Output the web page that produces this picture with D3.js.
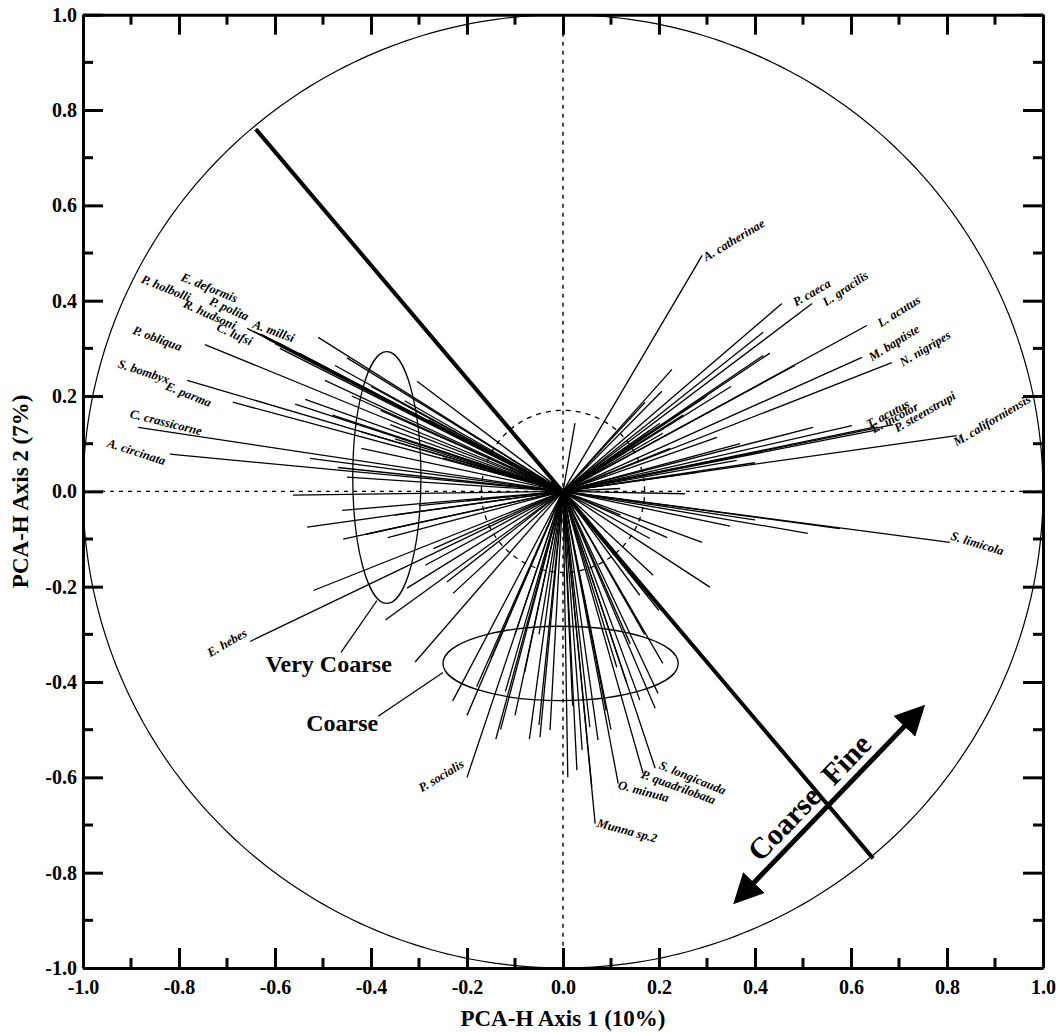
<!DOCTYPE html>
<html><head><meta charset="utf-8">
<script src="https://cdn.jsdelivr.net/npm/d3@7"></script>
<style>body{margin:0;background:#fff}svg{display:block}</style>
</head><body>
<svg id="c" width="1061" height="1033"></svg>
<script>
// ---- data ----
const speciesNames = ["A. catherinae","P. caeca","L. gracilis","L. acutus","M. baptiste","N. nigripes","T. acutus","E. incolor","P. steenstrupi","M. californiensis","S. limicola","E. hebes","P. socialis","S. longicauda","P. quadrilobata","O. minuta","Munna sp.2","A. circinata","C. crassicorne","S. bombyx","E. parma","P. obliqua","C. lufsi","A. millsi","R. hudsoni","P. polita","P. holbolli","E. deformis"];
const speciesPC1 = [0.29,0.456,0.519,0.633,0.623,0.685,0.646,0.66,0.688,0.82,0.806,-0.652,-0.2,0.192,0.167,0.115,0.067,-0.819,-0.885,-0.783,-0.688,-0.746,-0.59,-0.6,-0.62,-0.63,-0.645,-0.658];
const speciesPC2 = [0.495,0.394,0.394,0.348,0.281,0.27,0.134,0.13,0.14,0.117,-0.107,-0.315,-0.6,-0.581,-0.592,-0.613,-0.697,0.078,0.134,0.233,0.187,0.308,0.30,0.31,0.322,0.33,0.336,0.342];
// unlabeled species vectors
const otherPC1 = [-0.51,-0.304,-0.475,-0.496,-0.537,-0.558,-0.527,-0.469,-0.63,-0.596,-0.55,-0.35,-0.3,-0.42,-0.25,-0.44,-0.38,-0.2,-0.15,-0.28,
 -0.45,-0.4,-0.48,-0.42,-0.45,-0.33,-0.36,
 -0.5625,-0.46,-0.533,-0.458,-0.41,-0.365,-0.52,-0.325,-0.287,-0.27,-0.242,-0.229,-0.37,-0.308,-0.3,-0.2,-0.35,
 -0.23,-0.2,-0.14,-0.13,-0.1,-0.07,-0.05,-0.027,-0.048,-0.1,-0.15,-0.05,-0.18,-0.12,-0.08,
 0.073,0.04,0.029,0.056,0.133,0.112,0.208,0.198,0.192,0.16,0.09,0.02,0.01,0.06,0.1,0.14,0.17,
 0.577,0.51,0.348,0.29,0.217,0.181,0.306,0.188,0.16,0.254,0.4,0.12,0.2,
 0.417,0.431,0.417,0.227,0.206,0.171,0.483,0.521,0.602,0.369,0.321,0.223,0.208,0.202,0.362,0.025,0.119,0.181,0.3,0.35,0.25,0.15,0.28,0.4];
const otherPC2 = [0.323,0.231,0.264,0.233,0.193,0.183,0.069,0.05,0.33,0.313,0.29,0.11,0.1,0.125,0.07,0.2,0.17,0.06,0.08,0.15,
 0.28,0.22,0.16,0.09,0.03,0.19,0.14,
 -0.008,-0.04,-0.075,-0.10,-0.09,-0.097,-0.208,-0.203,-0.155,-0.12,-0.19,-0.214,-0.27,-0.358,-0.03,-0.02,-0.05,
 -0.44,-0.47,-0.52,-0.5,-0.47,-0.52,-0.49,-0.501,-0.516,-0.3,-0.35,-0.3,-0.41,-0.42,-0.38,
 -0.522,-0.543,-0.585,-0.495,-0.403,-0.369,-0.361,-0.424,-0.455,-0.438,-0.46,-0.45,-0.6,-0.62,-0.5,-0.32,-0.3,
 -0.078,-0.088,-0.073,-0.107,-0.097,-0.099,-0.201,-0.176,-0.218,-0.005,-0.06,-0.05,-0.25,
 0.334,0.29,0.285,0.256,0.21,0.187,0.264,0.134,0.138,0.1,0.113,0.09,0.122,0.143,0.065,0.143,0.006,0.128,0.2,0.22,0.16,0.1,0.04,0.06];
// gradient axis (bold line) end points
const gradientPC1 = [-0.64, 0.646];
const gradientPC2 = [0.76, -0.77];
// sediment ellipses
const ellipseNames = ["Very Coarse","Coarse"];
const ellipseCX = [-0.367,-0.005];
const ellipseCY = [0.029,-0.361];
const ellipseRX = [0.071,0.245];
const ellipseRY = [0.264,0.078];
const majorTicks = [-1.0,-0.8,-0.6,-0.4,-0.2,0.0,0.2,0.4,0.6,0.8,1.0];
const minorTicks = [-0.9,-0.7,-0.5,-0.3,-0.1,0.1,0.3,0.5,0.7,0.9];
const xTitle = "PCA-H Axis 1 (10%)";
const yTitle = "PCA-H Axis 2 (7%)";

// ---- label layout (offset from line end, px; rotation deg) ----
const labelLayout = {
 "A. catherinae":[4,6,-31,"start"],"P. caeca":[14,3,-30,"start"],"L. gracilis":[14,3,-34,"start"],
 "L. acutus":[14,2,-32,"start"],"M. baptiste":[10,4,-32,"start"],"N. nigripes":[11,4,-31,"start"],
 "T. acutus":[-4,1,-28,"start"],"E. incolor":[-6,4,-28,"start"],"P. steenstrupi":[4,8,-30,"start"],
 "M. californiensis":[0,11,-31,"start"],"S. limicola":[0,-3,17,"start"],"E. hebes":[-2,-6,-30,"end"],
 "P. socialis":[-2,-11,-31,"end"],"S. longicauda":[3,0,22,"start"],"P. quadrilobata":[-3,4,20,"start"],
 "O. minuta":[-1,5,15,"start"],"Munna sp.2":[1,3,15,"start"],"A. circinata":[-6,11,18,"end"],
 "C. crassicorne":[-9,-10,14,"start"],"S. bombyx":[-70,-13,18,"start"],"E. parma":[-68,-13,22,"start"],
 "P. obliqua":[-73,-11,20,"start"],"C. lufsi":[-64,-18,24,"start"],"A. millsi":[-23,-16,20,"start"],
 "R. hudsoni":[-83,-31,24,"start"],"P. polita":[-52,-30,24,"start"],"P. holbolli":[-113,-49,22,"start"],
 "E. deformis":[-67,-48,22,"start"]
};

const svg = d3.select("#c");
const X = d3.scaleLinear().domain([-1,1]).range([83,1043]);
const Y = d3.scaleLinear().domain([-1,1]).range([968,14.7]);
const serif = "'Liberation Serif','Times New Roman',serif";

// unit circle
const circ = d3.line().x(a=>X(Math.cos(a))).y(a=>Y(Math.sin(a)));
const angs = d3.range(0, 2*Math.PI+0.001, Math.PI/180);
svg.append("path").attr("d", circ(angs)).attr("fill","none").attr("stroke","#000").attr("stroke-width",1.2);

// dashed axes
svg.append("line").attr("x1",X(0)).attr("x2",X(0)).attr("y1",Y(1)).attr("y2",Y(-1))
  .attr("stroke","#000").attr("stroke-width",1.4).attr("stroke-dasharray","4,5");
svg.append("line").attr("x1",X(-1)).attr("x2",X(1)).attr("y1",Y(0)).attr("y2",Y(0))
  .attr("stroke","#000").attr("stroke-width",1.4).attr("stroke-dasharray","4,5");
// small dashed circle
const smallR = 0.17;
svg.append("path").attr("d", d3.line().x(a=>X(smallR*Math.cos(a))).y(a=>Y(smallR*Math.sin(a)))(angs))
  .attr("fill","none").attr("stroke","#000").attr("stroke-width",1.3).attr("stroke-dasharray","5,5");

// ellipses
ellipseNames.forEach((n,i)=>{
  svg.append("ellipse").attr("cx",X(ellipseCX[i])).attr("cy",Y(ellipseCY[i]))
    .attr("rx",X(ellipseRX[i])-X(0)).attr("ry",Y(0)-Y(ellipseRY[i]))
    .attr("fill","none").attr("stroke","#000").attr("stroke-width",1.3);
});

// unlabeled vectors
const others = otherPC1.map((x,i)=>({x, y: otherPC2[i]}));
svg.append("g").selectAll("line").data(others).join("line")
  .attr("x1",X(0)).attr("y1",Y(0)).attr("x2",d=>X(d.x)).attr("y2",d=>Y(d.y))
  .attr("stroke","#000").attr("stroke-width",1.3);

// labeled vectors
const species = speciesNames.map((n,i)=>({n, x: speciesPC1[i], y: speciesPC2[i]}));
svg.append("g").selectAll("line").data(species).join("line")
  .attr("x1",X(0)).attr("y1",Y(0)).attr("x2",d=>X(d.x)).attr("y2",d=>Y(d.y))
  .attr("stroke","#000").attr("stroke-width",1.3);

// gradient bold line
svg.append("line").attr("x1",X(gradientPC1[0])).attr("y1",Y(gradientPC2[0]))
  .attr("x2",X(gradientPC1[1])).attr("y2",Y(gradientPC2[1]))
  .attr("stroke","#000").attr("stroke-width",4);

// species labels
svg.append("g").selectAll("text").data(species).join("text")
  .attr("transform", d=>{const L=labelLayout[d.n]; return `translate(${X(d.x)+L[0]},${Y(d.y)+L[1]}) rotate(${L[2]})`;})
  .attr("text-anchor", d=>labelLayout[d.n][3])
  .attr("font-family", serif).attr("font-style","italic").attr("font-weight","bold")
  .attr("font-size", 12.5).text(d=>d.n);

// ellipse annotations
const annLeader = [[-0.3875,-0.229,-0.4625,-0.338],[-0.25,-0.38,-0.385,-0.472]];
const annText = [[-0.62,-0.38],[-0.535,-0.502]];
ellipseNames.forEach((n,i)=>{
  const a = annLeader[i];
  svg.append("line").attr("x1",X(a[0])).attr("y1",Y(a[1])).attr("x2",X(a[2])).attr("y2",Y(a[3]))
    .attr("stroke","#000").attr("stroke-width",1.3);
  svg.append("text").attr("x",X(annText[i][0])).attr("y",Y(annText[i][1]))
    .attr("font-family",serif).attr("font-weight","bold").attr("font-size",24).text(n);
});

// Coarse <-> Fine arrow
const arrA = [0.369,-0.851], arrB = [0.740,-0.463];
const defs = svg.append("defs");
defs.append("marker").attr("id","ah").attr("viewBox","0 0 10 10").attr("refX",2).attr("refY",5)
  .attr("markerWidth",6).attr("markerHeight",6).attr("orient","auto-start-reverse")
  .append("path").attr("d","M0,0 L10,5 L0,10 Z").attr("fill","#000");
const ax1=X(arrA[0]), ay1=Y(arrA[1]), ax2=X(arrB[0]), ay2=Y(arrB[1]);
const ang = Math.atan2(ay2-ay1, ax2-ax1);
const sh = 14;
svg.append("line").attr("x1",ax1+sh*Math.cos(ang)).attr("y1",ay1+sh*Math.sin(ang))
  .attr("x2",ax2-sh*Math.cos(ang)).attr("y2",ay2-sh*Math.sin(ang))
  .attr("stroke","#000").attr("stroke-width",5)
  .attr("marker-start","url(#ah)").attr("marker-end","url(#ah)");
const mid = [ax1+(ax2-ax1)*0.5, ay1+(ay2-ay1)*0.5];
const angDeg = ang*180/Math.PI;
const g2 = svg.append("g").attr("transform",`translate(${mid[0]},${mid[1]}) rotate(${angDeg})`);
g2.append("text").attr("x",0).attr("y",-9).attr("text-anchor","end")
  .attr("font-family",serif).attr("font-weight","bold").attr("font-size",30).text("Coarse");
g2.append("text").attr("x",16).attr("y",-9).attr("text-anchor","start")
  .attr("font-family",serif).attr("font-weight","bold").attr("font-size",30).text("Fine");

// frame axes
const fmt = d=>d.toFixed(1);
function styleAxis(g){ g.select(".domain").attr("stroke-width",3); g.selectAll(".tick line").attr("stroke-width",3);
  g.selectAll("text").attr("font-family",serif).attr("font-weight","bold").attr("font-size",20).attr("fill","#000"); }
const yB = Y(-1), yT = Y(1), xL = X(-1), xR = X(1);
const gBot = svg.append("g").attr("transform",`translate(0,${yB})`).call(d3.axisBottom(X).tickValues(majorTicks).tickFormat(fmt).tickSize(-20).tickSizeOuter(0).tickPadding(12)); styleAxis(gBot);
gBot.append("g").selectAll("line").data(minorTicks).join("line").attr("x1",X).attr("x2",X).attr("y1",0).attr("y2",-10).attr("stroke","#000").attr("stroke-width",3);
const gLef = svg.append("g").attr("transform",`translate(${xL},0)`).call(d3.axisLeft(Y).tickValues(majorTicks).tickFormat(fmt).tickSize(-20).tickSizeOuter(0).tickPadding(6)); styleAxis(gLef);
gLef.append("g").selectAll("line").data(minorTicks).join("line").attr("y1",Y).attr("y2",Y).attr("x1",0).attr("x2",10).attr("stroke","#000").attr("stroke-width",3);
const gTop = svg.append("g").attr("transform",`translate(0,${yT})`).call(d3.axisTop(X).tickValues(majorTicks).tickFormat("").tickSize(-20).tickSizeOuter(0)); styleAxis(gTop);
gTop.append("g").selectAll("line").data(minorTicks).join("line").attr("x1",X).attr("x2",X).attr("y1",0).attr("y2",10).attr("stroke","#000").attr("stroke-width",3);
const gRig = svg.append("g").attr("transform",`translate(${xR},0)`).call(d3.axisRight(Y).tickValues(majorTicks).tickFormat("").tickSize(-20).tickSizeOuter(0)); styleAxis(gRig);
gRig.append("g").selectAll("line").data(minorTicks).join("line").attr("y1",Y).attr("y2",Y).attr("x1",0).attr("x2",-10).attr("stroke","#000").attr("stroke-width",3);

// titles
svg.append("text").attr("x",(xL+xR)/2).attr("y",1026).attr("text-anchor","middle")
  .attr("font-family",serif).attr("font-weight","bold").attr("font-size",23).text(xTitle);
svg.append("text").attr("transform",`translate(28,${(yT+yB)/2}) rotate(-90)`).attr("text-anchor","middle")
  .attr("font-family",serif).attr("font-weight","bold").attr("font-size",23).text(yTitle);
</script>
</body></html>
